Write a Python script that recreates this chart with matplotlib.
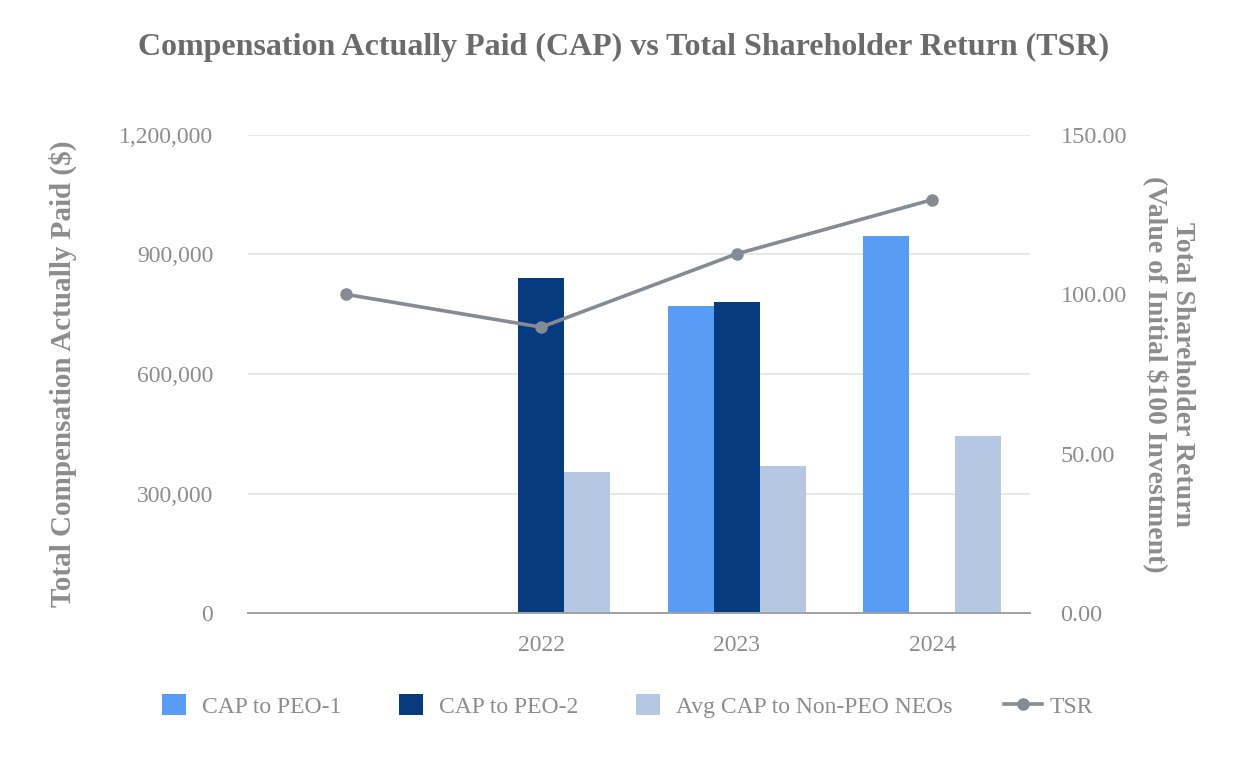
#!/usr/bin/env python3
"""CAP vs TSR chart: grouped bars on left axis, TSR line on right axis."""
import numpy as np
import matplotlib
matplotlib.use('Agg')
import matplotlib.pyplot as plt
from matplotlib.ticker import FuncFormatter
from matplotlib.legend_handler import HandlerLine2D

# Data
years = ['', '2022', '2023', '2024']
cap_peo1 = [np.nan, np.nan, 771000, 946000]
cap_peo2 = [np.nan, 841000, 781000, np.nan]
avg_non_peo = [np.nan, 354000, 369000, 444000]
tsr = [100.0, 89.7, 112.7, 129.7]

left_ticks = [0, 300000, 600000, 900000, 1200000]
right_ticks = [0, 50, 100, 150]

plt.rcParams['font.family'] = ['Liberation Serif', 'DejaVu Serif']

TEXT_GRAY = '#8c8c8c'
TITLE_GRAY = '#6b6b6b'
c_peo1 = '#589cf6'
c_peo2 = '#073b80'
c_non = '#b5c7e3'
c_tsr = '#848b92'


class WideLineHandler(HandlerLine2D):
    """Legend line that sticks out past the square handle box."""
    def get_xdata(self, legend, xdescent, ydescent, width, height, fontsize):
        xdata = np.array([-xdescent - 4, width - xdescent + 6])
        xmark = np.array([(xdata[0] + xdata[1]) / 2])
        return xdata, xmark


fig = plt.figure(figsize=(12.48, 7.6), dpi=100)
ax1 = fig.add_axes([0.1987, 0.1934, 0.6266, 0.629])

x = np.arange(len(years))
w = 0.235
ax1.bar(x - w, cap_peo1, w, color=c_peo1, label='CAP to PEO-1', zorder=3)
ax1.bar(x, cap_peo2, w, color=c_peo2, label='CAP to PEO-2', zorder=3)
ax1.bar(x + w, avg_non_peo, w, color=c_non, label='Avg CAP to Non-PEO NEOs', zorder=3)

ax1.set_xlim(-0.5, len(years) - 0.5)
ax1.set_ylim(0, 1200000)
ax1.set_yticks(left_ticks)
ax1.yaxis.set_major_formatter(FuncFormatter(lambda v, p: f'{int(v):,}'))
ax1.set_xticks(x)
ax1.set_xticklabels(years)
ax1.yaxis.grid(True, color='#e3e3e3', linewidth=1.2, zorder=0)
ax1.set_axisbelow(True)
for s in ['top', 'right', 'left']:
    ax1.spines[s].set_visible(False)
ax1.spines['bottom'].set_color('#a0a0a0')
ax1.spines['bottom'].set_linewidth(1.4)
ax1.spines['bottom'].set_zorder(4)
ax1.tick_params(axis='both', length=0, labelsize=17, labelcolor=TEXT_GRAY)
ax1.tick_params(axis='y', pad=25)
ax1.tick_params(axis='x', pad=16)
ax1.set_ylabel('Total Compensation Actually Paid ($)', fontsize=21,
               fontweight='bold', color=TEXT_GRAY, labelpad=30)

ax2 = ax1.twinx()
ax2.plot(x, tsr, color=c_tsr, linewidth=2.6, marker='o', markersize=8,
         label='TSR', zorder=5)
ax2.set_ylim(0, 150)
ax2.set_yticks(right_ticks)
ax2.yaxis.set_major_formatter(FuncFormatter(lambda v, p: f'{v:.2f}'))
for s in ['top', 'right', 'left', 'bottom']:
    ax2.spines[s].set_visible(False)
ax2.tick_params(axis='y', length=0, labelsize=17.5, labelcolor=TEXT_GRAY, pad=22)
ax2.set_ylabel('Total Shareholder Return\n(Value of Initial $100 Investment)',
               fontsize=20, fontweight='bold', color=TEXT_GRAY,
               rotation=270, labelpad=49, linespacing=1.05)

fig.suptitle('Compensation Actually Paid (CAP) vs Total Shareholder Return (TSR)',
             fontsize=23, fontweight='bold', color=TITLE_GRAY, y=0.957)

h1, l1 = ax1.get_legend_handles_labels()
h2, l2 = ax2.get_legend_handles_labels()
fig.legend(h1 + h2, l1 + l2, loc='center', bbox_to_anchor=(0.503, 0.071),
           ncol=4, frameon=False, fontsize=17, labelcolor=TEXT_GRAY,
           handlelength=1.0, handleheight=1.0, columnspacing=2.45,
           handletextpad=0.68, handler_map={h2[0]: WideLineHandler()})

fig.savefig('out.png', dpi=100)
